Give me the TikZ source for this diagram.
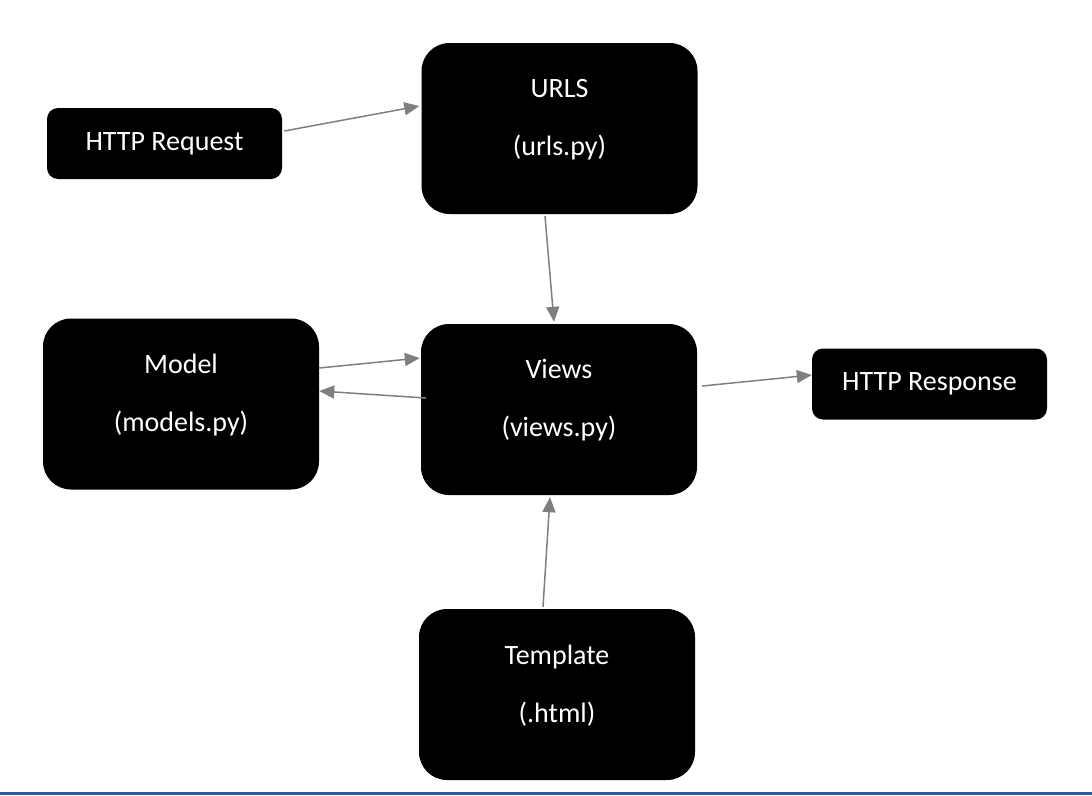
\documentclass[tikz,border=0pt]{standalone}
\usepackage{fontspec}
\setmainfont{Carlito}
\usetikzlibrary{arrows.meta}
\definecolor{linkgray}{RGB}{127,127,127}
\definecolor{bottomblue}{RGB}{47,93,155}

\begin{document}
\begin{tikzpicture}[x = 1pt, y = -1pt,
    every node/.style = {fill = black, inner sep = 0pt, text = white, font = \fontsize{28}{34}\selectfont},
    bigbox/.style = {rounded corners = 28pt, minimum width = 276pt, minimum height = 171pt},
    smallbox/.style = {rounded corners = 11pt, minimum width = 235pt, minimum height = 71pt},
    boxtext/.style = {fill = none, align = center, yshift = 9pt},
    link/.style = {draw = linkgray, line width = 1.5pt, -{Triangle[length = 15pt, width = 13pt]}}]
    \useasboundingbox (0,0) rectangle (1092,795);

    % boxes
    \node[smallbox] (request) at (164.5,143.5) {HTTP Request};
    \node[bigbox, label = {[boxtext]center:URLS\\[24pt](urls.py)}] (urls) at (559.5,128.5) {};
    \node[bigbox, label = {[boxtext]center:Model\\[24pt](models.py)}] (model) at (181,404) {};
    \node[bigbox, label = {[boxtext]center:Views\\[24pt](views.py)}] (views) at (559,409.5) {};
    \node[smallbox] (response) at (929.5,384) {HTTP Response};
    \node[bigbox, label = {[boxtext]center:Template\\[24pt](.html)}] (template) at (557,694.5) {};

    % links
    \draw[link] ([xshift = 2pt, yshift = 12.5pt]request.east) -- ([xshift = -2pt, yshift = 22.5pt]urls.west);
    \draw[link] ([xshift = -14.5pt, yshift = -2pt]urls.south) -- ([xshift = -5pt, yshift = 2pt]views.north);
    \draw[link] ([yshift = 36pt]model.east) -- ([xshift = -1pt, yshift = 51.5pt]views.west);
    \draw[link] ([xshift = 5pt, yshift = 11.5pt]views.west) -- ([yshift = 13pt]model.east);
    \draw[link] ([xshift = 5pt, yshift = 23.5pt]views.east) -- ([yshift = 9pt]response.west);
    \draw[link] ([xshift = -14pt, yshift = 2pt]template.north) -- ([xshift = -9pt, yshift = -2pt]views.south);

    \fill[bottomblue] (0,792) rectangle (1092,795);
\end{tikzpicture}
\end{document}
